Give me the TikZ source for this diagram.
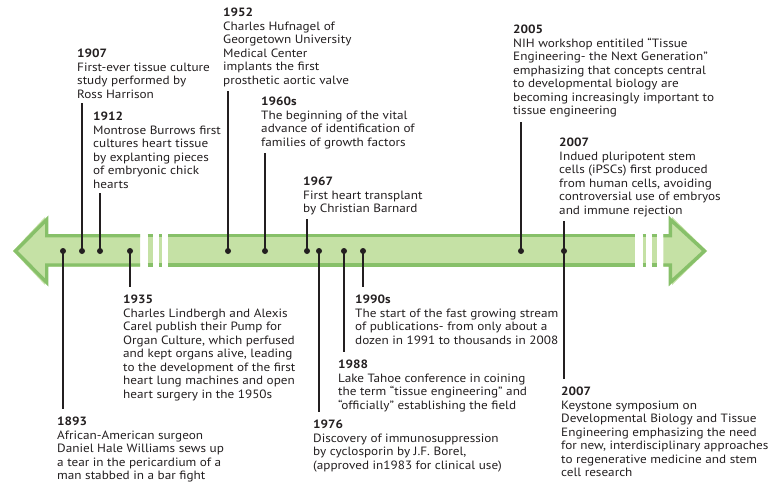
\documentclass[tikz,border=0pt]{standalone}
\usepackage{fontspec}
\setmainfont{PT Sans}[FakeStretch=1.1]
\usetikzlibrary{calc}

\definecolor{bandfill}{RGB}{197,225,165}
\definecolor{bandline}{RGB}{135,192,105}
\definecolor{inkgray}{RGB}{35,31,32}

\begin{document}
\begin{tikzpicture}[x=1pt, y=-1pt,
  dot/.style={circle, fill=inkgray, inner sep=0pt, minimum size=6pt},
  stem/.style={inkgray, line width=1.2pt},
  evt/.style={anchor=north west, align=left, inner sep=0pt, text=inkgray,
    font=\fontsize{12}{13.5}\selectfont},
  edge/.style={bandline, line width=3.4pt, line join=miter}]
  \useasboundingbox (0,0) rectangle (771,487);
  % left arrow head with its shaft
  \fill[bandfill] (140,234) -- (45,234) -- (45,217) -- (13,251) -- (45,285) -- (45,266.7) -- (140,266.7) -- cycle;
  \draw[edge] (140,235.7) -- (46.7,235.7) -- (46.7,219.5) -- (15.5,251) -- (46.7,282.5) -- (46.7,265) -- (140,265);
  % right arrow head with its shaft
  \fill[bandfill] (663.3,234) -- (672,234) -- (672,217) -- (707,251) -- (672,285) -- (672,266.7) -- (663.3,266.7) -- cycle;
  \draw[edge] (663.3,235.7) -- (670.3,235.7) -- (670.3,219.5) -- (704.5,251) -- (670.3,282.5) -- (670.3,265) -- (663.3,265);
  % middle band and the broken bits
  \foreach \a/\b in {168.3/635, 147.7/152.7, 159.3/162.3, 642.7/645.7, 651.7/656.7} {
    \fill[bandfill] (\a,234) rectangle (\b,266.7);
    \draw[edge] (\a,235.7) -- (\b,235.7) (\a,265) -- (\b,265);
  }
  % events on the band
  \foreach \nm/\x in {1893/63, 1907/82, 1912/100, 1935/130, 1952/228, 1960/265, 1967/307,
                      1976/319, 1988/344, 1990/363, 2005/521, 2007/564}
    \node[dot] (p\nm) at (\x,251) {};
  % texts above
  \node[evt] (y1907) at (77,49) {\textbf{1907}\\First-ever tissue culture\\study performed by\\Ross Harrison};
  \node[evt] (y1912) at (93,112) {\textbf{1912}\\Montrose Burrows first\\cultures heart tissue\\by explanting pieces\\of embryonic chick\\hearts};
  \node[evt] (y1952) at (223,8) {\textbf{1952}\\Charles Hufnagel of\\Georgetown University\\Medical Center\\implants the first\\prosthetic aortic valve};
  \node[evt] (y1960) at (261,97) {\textbf{1960s}\\The beginning of the vital\\advance of identification of\\families of growth factors};
  \node[evt] (y1967) at (303,177) {\textbf{1967}\\First heart transplant\\by Christian Barnard};
  \node[evt] (y2005) at (513,25) {\textbf{2005}\\NIH workshop entitiled “Tissue\\Engineering- the Next Generation”\\emphasizing that concepts central\\to developmental biology are\\becoming increasingly important to\\tissue engineering};
  \node[evt] (y2007a) at (559,138) {\textbf{2007}\\Indued pluripotent stem\\cells (iPSCs) first produced\\from human cells, avoiding\\controversial use of embryos\\and immune rejection};
  % texts below
  \node[evt] (y1893) at (57,417) {\textbf{1893}\\African-American surgeon\\Daniel Hale Williams sews up\\a tear in the pericardium of a\\man stabbed in a bar fight};
  \node[evt] (y1935) at (123,295) {\textbf{1935}\\Charles Lindbergh and Alexis\\Carel publish their Pump for\\Organ Culture, which perfused\\and kept organs alive, leading\\to the development of the first\\heart lung machines and open\\heart surgery in the 1950s};
  \node[evt] (y1976) at (313,420) {\textbf{1976}\\Discovery of immunosuppression\\by cyclosporin by J.F. Borel,\\(approved in1983 for clinical use)};
  \node[evt] (y1988) at (338,360) {\textbf{1988}\\Lake Tahoe conference in coining\\the term “tissue engineering” and\\“officially” establishing the field};
  \node[evt] (y1990) at (355,295) {\textbf{1990s}\\The start of the fast growing stream\\of publications- from only about a\\dozen in 1991 to thousands in 2008};
  \node[evt] (y2007b) at (561,387) {\textbf{2007}\\Keystone symposium on\\Developmental Biology and Tissue\\Engineering emphasizing the need\\for new, interdisciplinary approaches\\to regenerative medicine and stem\\cell research};
  % stems
  \foreach \d/\t in {p1907/y1907, p1912/y1912, p1952/y1952, p1960/y1960, p1967/y1967, p2005/y2005, p2007/y2007a}
    \draw[stem, shorten >=4pt] (\d.center) -- (\d |- \t.south);
  \foreach \d/\t in {p1893/y1893, p1935/y1935, p1976/y1976, p1988/y1988, p1990/y1990, p2007/y2007b}
    \draw[stem, shorten >=8pt] (\d.center) -- (\d |- \t.north);
\end{tikzpicture}
\end{document}
